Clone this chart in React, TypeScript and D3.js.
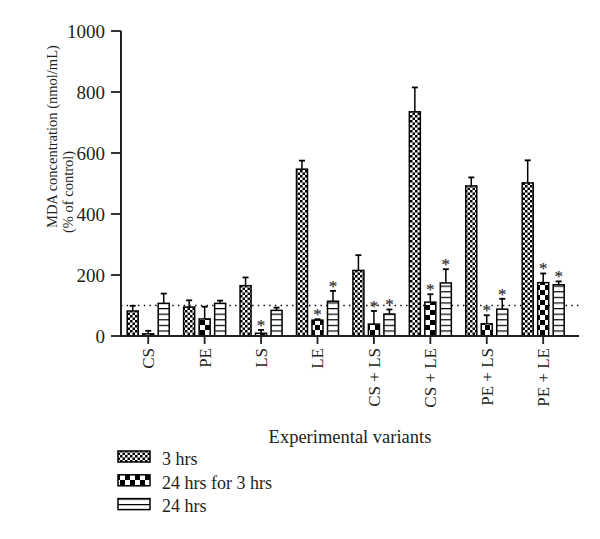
import React from "react";
import * as d3 from "d3";

const categories = ["CS", "PE", "LS", "LE", "CS + LS", "CS + LE", "PE + LS", "PE + LE"];
const seriesNames = ["3 hrs", "24 hrs for 3 hrs", "24 hrs"];
const values3h = [82, 95, 165, 547, 215, 735, 492, 502];
const err3h = [17, 22, 27, 28, 50, 80, 28, 74];
const values24for3 = [7, 56, 9, 52, 39, 111, 40, 175];
const err24for3 = [10, 40, 11, 3, 43, 26, 28, 30];
const values24h = [107, 107, 84, 114, 72, 174, 88, 168];
const err24h = [32, 9, 9, 34, 15, 45, 34, 11];
const star24for3 = [false, false, true, true, true, true, true, true];
const star24h = [false, false, false, true, true, true, true, true];
const yTicks = [0, 200, 400, 600, 800, 1000];
const controlLevel = 100;

const W = 600;
const H = 539;
const FONT = "'Liberation Serif', 'Times New Roman', serif";
const INK = "#231f20";

export default function App() {
  const x = d3.scaleBand<string>().domain(categories).range([120, 571.4]).padding(0);
  const inner = d3.scaleBand<string>().domain(seriesNames).range([-21, 21]).paddingInner(0.29).paddingOuter(0);
  const y = d3.scaleLinear().domain([0, 1000]).range([336, 31]);
  const patterns = ["pFine", "pCoarse", "pLines"];
  const vals = [values3h, values24for3, values24h];
  const errs = [err3h, err24for3, err24h];
  const stars = [categories.map(() => false), star24for3, star24h];
  const bw = inner.bandwidth();
  const x0 = 121;
  const x1 = 579;

  return (
    <svg width={W} height={H} style={{ position: "absolute", left: 0, top: 0, background: "#fff" }} fontFamily={FONT}>
      <defs>
        <pattern id="pFine" patternUnits="userSpaceOnUse" width={5} height={5}>
          <rect width={5} height={5} fill="#fff" />
          <rect x={0} y={0} width={2.5} height={2.5} fill="#000" />
          <rect x={2.5} y={2.5} width={2.5} height={2.5} fill="#000" />
        </pattern>
        <pattern id="pCoarse" patternUnits="userSpaceOnUse" width={10} height={10}>
          <rect width={10} height={10} fill="#fff" />
          <rect x={0} y={0} width={5} height={5} fill="#000" />
          <rect x={5} y={5} width={5} height={5} fill="#000" />
        </pattern>
        <pattern id="pLines" patternUnits="userSpaceOnUse" width={6} height={5.6}>
          <rect width={6} height={5.6} fill="#fff" />
          <rect x={0} y={0} width={6} height={1.2} fill="#000" />
        </pattern>
      </defs>

      {/* control dotted line */}
      <line x1={x0} x2={x1} y1={y(controlLevel)} y2={y(controlLevel)} stroke="#000" strokeWidth={1.4} strokeDasharray="1.4 4.3" />

      {/* bars */}
      {seriesNames.map((s, si) => (
        <g key={s}>
          {categories.map((c, ci) => {
            const cx = (x(c) as number) + x.bandwidth() / 2 + (inner(s) as number) + bw / 2;
            const v = vals[si][ci];
            const e = errs[si][ci];
            const top = y(v + e);
            return (
              <g key={c}>
                <line x1={cx} x2={cx} y1={y(v)} y2={top} stroke="#000" strokeWidth={1.5} />
                <line x1={cx - 3} x2={cx + 3} y1={top} y2={top} stroke="#000" strokeWidth={1.8} />
                <rect x={cx - bw / 2} y={y(v)} width={bw} height={y(0) - y(v)} fill={`url(#${patterns[si]})`} stroke="#000" strokeWidth={1.5} />
                {stars[si][ci] && (
                  <text x={cx} y={top + 1} textAnchor="middle" fontSize={17} fill="#333" stroke="#333" strokeWidth={0.2}>*</text>
                )}
              </g>
            );
          })}
        </g>
      ))}

      {/* axes */}
      <line x1={x0} x2={x0} y1={y(1000)} y2={y(0)} stroke={INK} strokeWidth={2} />
      <line x1={x0 - 1} x2={x1} y1={y(0)} y2={y(0)} stroke={INK} strokeWidth={2} />
      {yTicks.map((t) => (
        <g key={t}>
          <line x1={x0 - 10} x2={x0} y1={y(t)} y2={y(t)} stroke={INK} strokeWidth={1.8} />
          <text x={105} y={y(t)} dy="0.35em" textAnchor="end" fontSize={19} fill={INK}>{t}</text>
        </g>
      ))}
      {categories.map((c) => {
        const cx = (x(c) as number) + x.bandwidth() / 2;
        return (
          <g key={c}>
            <line x1={cx} x2={cx} y1={y(0)} y2={y(0) + 8} stroke={INK} strokeWidth={1.8} />
            <text transform={`translate(${cx},348) rotate(-90)`} dy="0.35em" textAnchor="end" fontSize={17} fill={INK}>{c}</text>
          </g>
        );
      })}

      {/* axis titles */}
      <text transform="translate(52,228) rotate(-90)" dy="0.35em" textAnchor="start" fontSize={14.5} fill={INK}>MDA concentration (nmol/mL)</text>
      <text transform="translate(68,233) rotate(-90)" dy="0.35em" textAnchor="start" fontSize={14.5} fill={INK}>(% of control)</text>
      <text x={350} y={443} textAnchor="middle" fontSize={18.5} fill={INK}>Experimental variants</text>

      {/* legend */}
      {seriesNames.map((s, si) => (
        <g key={s}>
          <rect x={118} y={451 + si * 23.8} width={32} height={11} fill={`url(#${patterns[si]})`} stroke="#000" strokeWidth={1.5} />
          <text x={162} y={465 + si * 23.5} fontSize={18} fill={INK}>{s}</text>
        </g>
      ))}
    </svg>
  );
}
